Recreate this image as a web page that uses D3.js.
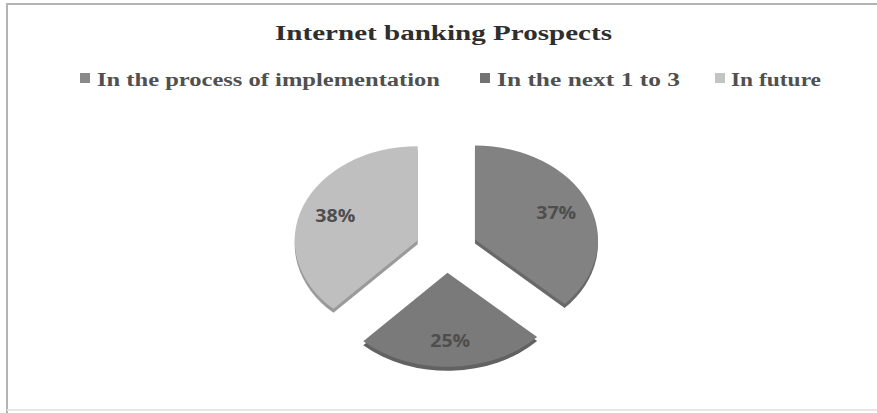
<!DOCTYPE html>
<html>
<head>
<meta charset="utf-8">
<script src="https://cdn.jsdelivr.net/npm/d3@7"></script>
<style>
  html, body { margin: 0; padding: 0; background: #fff; }
  svg { display: block; }
</style>
</head>
<body>
<svg id="chart" width="877" height="413"></svg>
<script>
// Internet banking prospects: share of banks by stage
const categories = ["In the process of implementation", "In the next 1 to 3", "In future"];
const shares = [37, 25, 38];
const sliceColors = ["#828282", "#7a7a7a", "#bfbfbf"];
const legendSwatch = ["#8a8a8a", "#737373", "#c4c4c4"];
const titleText = "Internet banking Prospects";

const W = 877, H = 413;
const svg = d3.select("#chart");

// frame
svg.append("path")
  .attr("d", `M7,${H} L7,4 L${W},4`)
  .attr("fill", "none").attr("stroke", "#b4b4b4").attr("stroke-width", 2);
svg.append("line")
  .attr("x1", 7).attr("x2", W).attr("y1", 410).attr("y2", 410)
  .attr("stroke", "#e6e6e6").attr("stroke-width", 2);

// title
svg.append("text")
  .attr("x", 275).attr("y", 40)
  .attr("textLength", 337).attr("lengthAdjust", "spacingAndGlyphs")
  .style("font-family", "'Liberation Serif', 'DejaVu Serif', serif")
  .style("font-weight", "bold").style("font-size", "20px")
  .attr("fill", "#2e2e2e")
  .text(titleText);

// legend
const legendItems = [
  { x: 80, textX: 97, width: 343 },
  { x: 480, textX: 497, width: 183 },
  { x: 715, textX: 731, width: 90 }
];
const legend = svg.append("g");
categories.forEach((c, i) => {
  const it = legendItems[i];
  legend.append("rect")
    .attr("x", it.x).attr("y", 73).attr("width", 10).attr("height", 10)
    .attr("fill", legendSwatch[i]);
  legend.append("text")
    .attr("x", it.textX).attr("y", 86)
    .attr("textLength", it.width).attr("lengthAdjust", "spacingAndGlyphs")
    .style("font-family", "'Liberation Serif', 'DejaVu Serif', serif")
    .style("font-weight", "bold").style("font-size", "18px")
    .attr("fill", "#505050")
    .text(c);
});

// exploded, tilted pie
const cx = 446.5, cy = 249;
const r = 123;          // horizontal radius
const tilt = 0.765;     // vertical squash
const explode = 31;     // slice offset along its bisector
const depth = 4;        // visible side thickness

const pie = d3.pie().sort(null).value(d => d)(shares);
const arc = d3.arc().innerRadius(0).outerRadius(r);
const mid = d => (d.startAngle + d.endAngle) / 2;

const pieG = svg.append("g");

// side faces first, then top faces
["side", "top"].forEach(layer => {
  pie.forEach((d, i) => {
    const a = mid(d);
    const ox = explode * Math.sin(a);
    const oy = -explode * Math.cos(a);
    const dy = layer === "side" ? depth : 0;
    pieG.append("path")
      .attr("transform", `translate(${cx},${cy + dy}) scale(1,${tilt}) translate(${ox},${oy})`)
      .attr("d", arc(d))
      .attr("fill", layer === "side" ? d3.color(sliceColors[i]).darker(0.6) : sliceColors[i]);
  });
});

// value labels
const labelR = explode + r * 0.72;
pie.forEach((d, i) => {
  const a = mid(d);
  svg.append("text")
    .attr("x", cx + labelR * Math.sin(a))
    .attr("y", cy - labelR * Math.cos(a) * tilt)
    .attr("text-anchor", "middle").attr("dominant-baseline", "central")
    .attr("textLength", 40).attr("lengthAdjust", "spacingAndGlyphs")
    .style("font-family", "'Open Sans', 'DejaVu Sans', sans-serif")
    .style("font-weight", "bold").style("font-size", "17px")
    .attr("fill", "#4e4e4e")
    .text(d.data + "%");
});
</script>
</body>
</html>
